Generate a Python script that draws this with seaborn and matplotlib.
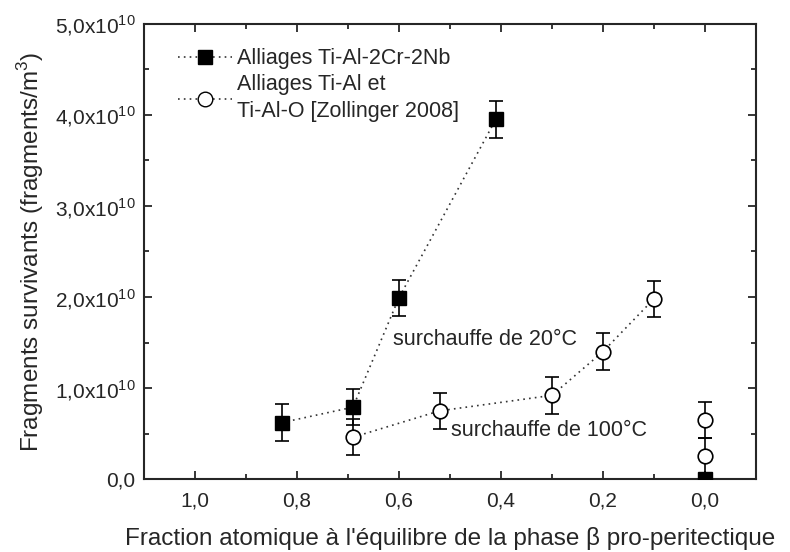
import numpy as np
import pandas as pd
import matplotlib
matplotlib.use('Agg')
import matplotlib.pyplot as plt
from matplotlib.lines import Line2D
from matplotlib.ticker import MultipleLocator, FuncFormatter
import seaborn as sns

# data (y in fragments/m3)
sq_x = [0.83, 0.69, 0.60, 0.41, 0.0]
sq_y = [0.62e10, 0.79e10, 1.99e10, 3.95e10, 0.0]
sq_err = [0.2e10, 0.2e10, 0.2e10, 0.2e10, 0.0]
sq_curve = [True, True, True, True, False]

ci_x = [0.69, 0.52, 0.30, 0.20, 0.10, 0.0, 0.0]
ci_y = [0.46e10, 0.75e10, 0.92e10, 1.40e10, 1.98e10, 0.65e10, 0.25e10]
ci_err = [0.2e10, 0.2e10, 0.2e10, 0.2e10, 0.2e10, 0.2e10, 0.2e10]
ci_curve = [True, True, True, True, True, False, False]

labels = ['Alliages Ti-Al-2Cr-2Nb', 'Alliages Ti-Al et\nTi-Al-O [Zollinger 2008]']

sq = pd.DataFrame({'x': sq_x, 'y': sq_y, 'err': sq_err, 'curve': sq_curve})
ci = pd.DataFrame({'x': ci_x, 'y': ci_y, 'err': ci_err, 'curve': ci_curve})

sns.set_style('ticks')
plt.rcParams['font.family'] = ['Liberation Sans', 'DejaVu Sans']
plt.rcParams['mathtext.fontset'] = 'custom'
plt.rcParams['mathtext.rm'] = 'Liberation Sans'
plt.rcParams['axes.linewidth'] = 1.5

fig = plt.figure(figsize=(7.9, 5.52), dpi=100)
ax = fig.add_axes([0.182, 0.132, 0.775, 0.825])

dots = (0, (1, 2.5))

# dotted guide curves
sns.lineplot(data=sq[sq.curve], x='x', y='y', sort=False, estimator=None,
             color='#333333', ls=dots, lw=1.2, ax=ax)
sns.lineplot(data=ci[ci.curve], x='x', y='y', sort=False, estimator=None,
             color='#333333', ls=dots, lw=1.2, ax=ax)

# error bars + markers
ax.errorbar(sq.x, sq.y, yerr=sq.err, fmt='none', ecolor='k', elinewidth=1.2,
            capsize=5, capthick=1.2, zorder=3)
ax.errorbar(ci.x, ci.y, yerr=ci.err, fmt='none', ecolor='k', elinewidth=1.2,
            capsize=5, capthick=1.2, zorder=3)
ax.plot(sq.x, sq.y, 's', ms=9.5, mfc='k', mec='k', zorder=4)
ax.plot(ci.x, ci.y, 'o', ms=10.5, mfc='white', mec='k', mew=1.2, zorder=4)

ax.text(0.612, 1.53e10, 'surchauffe de 20°C', fontsize=15.5, va='center', ha='left')
ax.text(0.497, 0.53e10, 'surchauffe de 100°C', fontsize=15.5, va='center', ha='left')

ax.set_xlim(1.1, -0.1)
ax.set_ylim(0, 5e10)
ax.set_xticks([1.0, 0.8, 0.6, 0.4, 0.2, 0.0])
ax.xaxis.set_minor_locator(MultipleLocator(0.1))
ax.yaxis.set_major_locator(MultipleLocator(1e10))
ax.yaxis.set_minor_locator(MultipleLocator(0.5e10))


def fmt_x(v, pos):
    if abs(v) < 1e-9:
        v = 0.0
    return f'{v:.1f}'.replace('.', ',')


def fmt_y(v, pos):
    if abs(v) < 1:
        return '0,0'
    return f'{v / 1e10:.1f}'.replace('.', ',') + r'x10$^{10}$'


ax.xaxis.set_major_formatter(FuncFormatter(fmt_x))
ax.yaxis.set_major_formatter(FuncFormatter(fmt_y))
ax.tick_params(which='both', direction='in', top=True, right=True, width=1.3)
ax.tick_params(which='major', length=6, labelsize=15)
ax.tick_params(axis='x', which='major', pad=9)
ax.tick_params(axis='y', which='major', pad=6)
ax.tick_params(which='minor', length=3.5)

ax.set_xlabel("Fraction atomique à l'équilibre de la phase β pro-peritectique",
              fontsize=17.5, labelpad=12)
ax.set_ylabel('Fragments survivants (fragments/m$^3$)', fontsize=17.5, labelpad=6)

handles = [
    Line2D([], [], color='#333333', ls=dots, lw=1.2, marker='s',
           ms=9.5, mfc='k', mec='k'),
    Line2D([], [], color='#333333', ls=dots, lw=1.2, marker='o',
           ms=10.5, mfc='white', mec='k'),
]
leg = ax.legend(handles, labels, loc='upper left', bbox_to_anchor=(0.035, 0.975),
                frameon=False, fontsize=15.5, handlelength=2.5, labelspacing=0.25,
                handletextpad=0.25, borderaxespad=0.2)
for t in leg.get_texts():
    t.set_linespacing(1.35)

fig.savefig('out.png', dpi=100)
